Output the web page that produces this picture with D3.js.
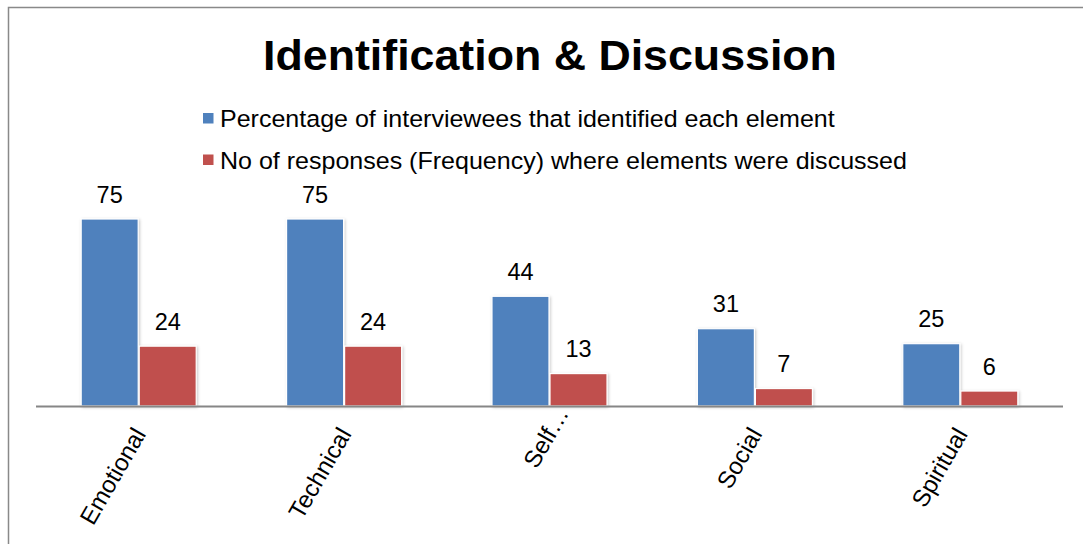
<!DOCTYPE html>
<html><head><meta charset="utf-8">
<script src="https://cdn.jsdelivr.net/npm/d3@7"></script>
<style>body{margin:0;background:#fff}svg{display:block}text{font-family:"Liberation Sans",Arial,sans-serif;fill:#000}</style>
</head><body><svg id="c" width="1083" height="544"></svg>
<script>
const categories = ["Emotional","Technical","Self…","Social","Spiritual"];
const seriesNames = ["Percentage of interviewees that identified each element","No of responses (Frequency) where elements were discussed"];
const percentValues = [75,75,44,31,25];
const frequencyValues = [24,24,13,7,6];
const colors = ["#4F81BD","#C0504D"];
const title = "Identification & Discussion";

const svg = d3.select("#c");
const defs = svg.append("defs");
const f = defs.append("filter").attr("id","sh").attr("x","-20%").attr("y","-20%").attr("width","140%").attr("height","140%");
f.append("feDropShadow").attr("dx",1).attr("dy",1).attr("stdDeviation",1.5).attr("flood-color","#000").attr("flood-opacity",0.22);

svg.append("rect").attr("x",8.5).attr("y",7.5).attr("width",1100).attr("height",600)
  .attr("fill","#fff").attr("stroke","#898989").attr("stroke-width",1.5);

svg.append("g").attr("transform",`translate(550,70) scale(1.04,1)`)
  .append("text").attr("text-anchor","middle").attr("font-size",43).attr("font-weight","bold").text(title);

const lg = svg.append("g");
seriesNames.forEach((s,i)=>{
  const yy = 113 + i*41.5;
  lg.append("rect").attr("x",203).attr("y",yy).attr("width",10.5).attr("height",10.5).attr("fill",colors[i]);
  lg.append("g").attr("transform",`translate(220,${yy+14}) scale(1.065,1)`)
    .append("text").attr("font-size",23.5).text(s);
});

const x0 = d3.scaleBand().domain(categories).range([36,1063]).paddingInner(0.435).paddingOuter(0.2175);
const x1 = d3.scaleBand().domain([0,1]).range([0,x0.bandwidth()]).padding(0);
const y = d3.scaleLinear().domain([0,75]).range([406,219]);

const data = categories.map((c,i)=>({c, v:[percentValues[i],frequencyValues[i]]}));
const g = svg.append("g");
const groups = g.selectAll("g.grp").data(data).join("g").attr("class","grp")
  .attr("transform",d=>`translate(${x0(d.c)},0)`);
groups.selectAll("rect").data(d=>d.v.map((v,k)=>({v,k}))).join("rect")
  .attr("x",d=>x1(d.k)+0.5).attr("width",x1.bandwidth()-1)
  .attr("y",d=>y(d.v)).attr("height",d=>y(0)-y(d.v))
  .attr("fill",d=>colors[d.k]).attr("stroke","#fff").attr("stroke-width",1.2)
  .attr("filter","url(#sh)");
groups.selectAll("text.lbl").data(d=>d.v.map((v,k)=>({v,k}))).join("text").attr("class","lbl")
  .attr("x",d=>x1(d.k)+x1.bandwidth()/2).attr("y",d=>y(d.v)-16.5)
  .attr("text-anchor","middle").attr("font-size",23.5).text(d=>d.v);

svg.append("line").attr("x1",36).attr("x2",1063).attr("y1",y(0)+0.5).attr("y2",y(0)+0.5)
  .attr("stroke","#868686").attr("stroke-width",2);

// truncated labels are pushed further along their baseline
svg.selectAll("text.ax").data(categories).join("text").attr("class","ax")
  .attr("text-anchor","end").attr("font-size",24)
  .attr("transform",d=>`translate(${x0(d)+x0.bandwidth()/2+8},434) rotate(-60)`)
  .attr("x",d=>d.endsWith("…")?24:0)
  .text(d=>d);
</script></body></html>
